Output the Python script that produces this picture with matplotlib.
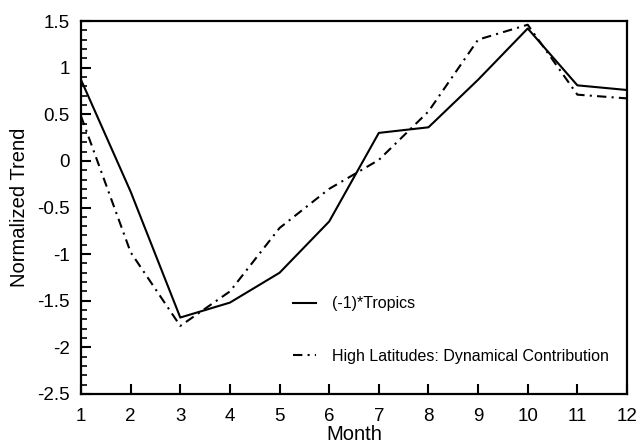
import matplotlib.pyplot as plt
from matplotlib.ticker import MultipleLocator, FuncFormatter

plt.rcParams['font.family'] = ['Liberation Sans', 'DejaVu Sans']

months = [1, 2, 3, 4, 5, 6, 7, 8, 9, 10, 11, 12]
tropics = [0.87, -0.33, -1.68, -1.52, -1.20, -0.65, 0.30, 0.36, 0.87, 1.42, 0.81, 0.76]
high_lat = [0.48, -0.98, -1.77, -1.40, -0.72, -0.30, 0.01, 0.53, 1.30, 1.46, 0.71, 0.67]

fig = plt.figure(figsize=(6.38, 4.45), dpi=100)
ax = fig.add_axes([81/638, 1 - 394/445, 546/638, 373/445])

ax.plot(months, tropics, color='black', lw=1.5, label='(-1)*Tropics')
ax.plot(months, high_lat, color='black', lw=1.5, dashes=(4.5, 2.5, 1, 2.5),
        label='High Latitudes: Dynamical Contribution')

ax.set_xlim(1, 12)
ax.set_ylim(-2.5, 1.5)
ax.set_xticks(months)
ax.yaxis.set_major_locator(MultipleLocator(0.5))
ax.yaxis.set_minor_locator(MultipleLocator(0.1))
ax.yaxis.set_major_formatter(FuncFormatter(lambda v, p: ('%g' % round(v, 2)).replace('−', '-')))
ax.tick_params(direction='in', labelsize=13.5, width=1.5, length=7, top=False, right=False)
ax.tick_params(axis='x', pad=10)
ax.tick_params(axis='y', pad=8)
ax.tick_params(which='minor', direction='in', width=1.2, length=4, top=False, right=False)
for s in ax.spines.values():
    s.set_linewidth(1.6)

ax.set_xlabel('Month', fontsize=14.5, labelpad=0)
ax.set_ylabel('Normalized Trend', fontsize=14.5, labelpad=6)

ax.legend(loc='upper left', bbox_to_anchor=(0.388, 0.262), frameon=False, fontsize=11.5,
          handlelength=1.45, labelspacing=2.35, handletextpad=1.0,
          borderpad=0, borderaxespad=0)

fig.savefig('out.png', dpi=100)
